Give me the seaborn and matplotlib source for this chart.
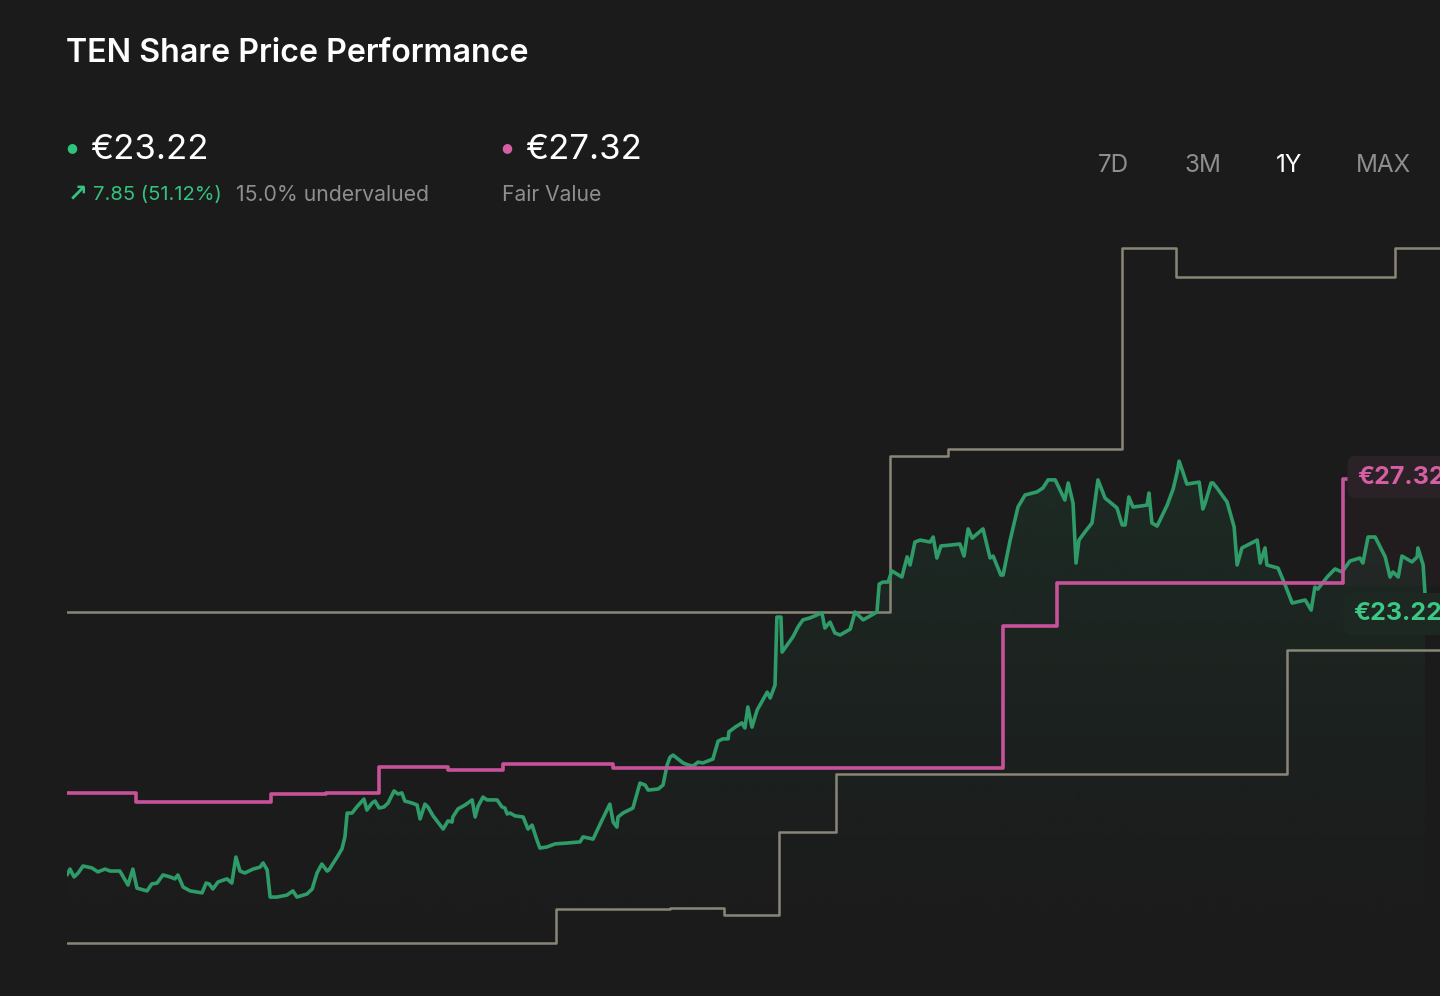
import numpy as np
import pandas as pd
import matplotlib
matplotlib.use("Agg")
import matplotlib.pyplot as plt
import matplotlib.colors as mcolors
import seaborn as sns

# ---------------- data (days since start of 1Y window, price in EUR) ----------------
price_days = [
    0, 0.8, 1.9, 3.0, 4.3, 6.7, 8.3, 10.2, 11.6, 14.2,
    15.6, 16.4, 17.7, 18.8, 21.5, 22.8, 24.2, 25.8, 27.7, 29.0,
    29.8, 31.2, 33.1, 36.3, 37.4, 38.2, 39.2, 40.6, 43.0, 44.3,
    45.4, 46.5, 47.8, 50.0, 51.9, 52.7, 53.8, 54.6, 56.4, 59.1,
    60.7, 61.8, 64.5, 65.9, 67.2, 68.5, 69.9, 70.4, 72.6, 73.9,
    74.7, 75.3, 76.6, 77.9, 79.3, 79.8, 80.6, 82.0, 82.8, 83.9,
    85.2, 86.3, 87.9, 89.0, 90.0, 90.8, 92.7, 94.1, 94.9, 96.2,
    97.0, 98.4, 101.1, 102.4, 103.5, 103.7, 105.1, 107.0, 108.9, 109.7,
    110.5, 111.8, 112.9, 115.6, 116.9, 117.7, 118.3, 119.1, 120.4, 122.6,
    123.9, 125.0, 126.3, 127.1, 129.0, 131.2, 134.4, 137.9, 138.7, 141.4,
    143.3, 145.9, 146.8, 147.8, 148.1, 149.4, 152.1, 154.0, 155.4, 156.2,
    158.9, 160.2, 161.3, 162.1, 162.9, 165.6, 166.9, 168.3, 169.6, 170.9,
    173.6, 175.0, 176.3, 177.7, 177.9, 179.6, 181.4, 182.2, 183.0, 184.1,
    185.5, 188.2, 189.0, 190.3, 190.8, 191.9, 192.2, 195.1, 196.5, 197.8,
    199.7, 202.9, 203.7, 205.1, 206.4, 207.8, 210.5, 211.8, 214.0, 217.7,
    218.3, 219.3, 220.7, 221.7, 224.4, 225.8, 226.6, 227.9, 229.3, 232.0,
    232.8, 233.8, 234.9, 237.3, 240.0, 241.1, 242.2, 243.3, 246.2, 248.1,
    248.9, 251.0, 251.6, 253.5, 255.6, 257.5, 260.7, 262.3, 263.7, 265.6,
    266.9, 268.2, 269.1, 270.4, 271.2, 272.0, 273.6, 275.5, 277.1, 279.0,
    282.2, 283.6, 284.4, 285.4, 286.5, 288.9, 290.3, 290.8, 291.6, 293.0,
    295.7, 297.3, 298.4, 298.9, 300.0, 301.0, 304.3, 305.3, 305.9, 307.5,
    308.0, 309.1, 311.8, 313.7, 314.5, 315.8, 319.9, 320.7, 322.0, 322.5,
    325.5, 327.4, 329.3, 332.8, 334.4, 335.4, 336.2, 338.7, 340.8, 342.7,
    344.8, 347.5, 348.3, 349.7, 351.6, 354.3, 355.6, 356.4, 357.8, 358.8,
    361.5, 362.9, 363.1, 364.5, 365.0,
]
price_values = [
    13.18, 13.39, 13.11, 13.25, 13.50, 13.43, 13.29, 13.39, 13.32, 13.32,
    13.00, 12.82, 13.39, 12.71, 12.61, 12.86, 12.89, 13.18, 13.11, 13.04,
    13.18, 12.75, 12.61, 12.54, 12.89, 12.86, 12.68, 12.93, 13.04, 12.89,
    13.82, 13.32, 13.25, 13.39, 13.46, 13.61, 13.36, 12.39, 12.39, 12.46,
    12.61, 12.39, 12.50, 12.68, 13.25, 13.57, 13.32, 13.36, 13.82, 14.11,
    14.54, 15.39, 15.39, 15.61, 15.82, 15.89, 15.50, 15.75, 15.82, 15.57,
    15.61, 15.75, 16.18, 16.07, 16.11, 15.82, 15.75, 15.68, 15.18, 15.71,
    15.61, 15.29, 14.82, 15.11, 15.07, 15.25, 15.54, 15.68, 15.86, 15.25,
    15.64, 15.96, 15.86, 15.86, 15.61, 15.57, 15.36, 15.39, 15.29, 15.25,
    14.82, 14.96, 14.43, 14.14, 14.18, 14.29, 14.32, 14.36, 14.54, 14.46,
    15.00, 15.71, 15.07, 14.89, 15.25, 15.39, 15.57, 16.46, 16.39, 16.21,
    16.25, 16.39, 17.11, 17.39, 17.46, 17.18, 17.11, 17.07, 17.21, 17.18,
    17.32, 17.96, 18.04, 18.04, 18.29, 18.46, 18.61, 18.43, 19.18, 18.46,
    19.07, 19.71, 19.50, 19.96, 22.39, 22.39, 21.14, 21.68, 22.04, 22.29,
    22.36, 22.54, 22.00, 22.21, 21.82, 21.75, 21.96, 22.57, 22.29, 22.57,
    23.57, 23.64, 23.64, 24.04, 23.82, 24.54, 24.25, 25.07, 25.14, 25.07,
    25.25, 24.50, 24.93, 24.96, 25.00, 24.57, 25.54, 25.21, 25.54, 24.50,
    24.57, 23.89, 23.89, 25.14, 26.32, 26.75, 26.86, 27.00, 27.29, 27.29,
    26.93, 26.57, 27.18, 26.46, 24.32, 25.14, 25.43, 25.75, 27.29, 26.64,
    26.29, 25.68, 25.68, 26.68, 26.32, 26.36, 26.39, 26.82, 25.75, 25.64,
    26.39, 26.96, 27.57, 27.96, 27.54, 27.14, 27.21, 26.25, 26.46, 27.18,
    27.18, 27.00, 26.50, 25.61, 24.25, 24.86, 25.14, 24.32, 24.86, 24.25,
    24.14, 23.54, 22.89, 23.00, 22.64, 23.46, 23.39, 23.82, 24.11, 24.00,
    24.39, 24.50, 24.32, 25.25, 25.25, 24.54, 23.82, 24.00, 23.82, 24.57,
    24.36, 24.54, 24.86, 24.25, 23.22,
]

fair_days = [0, 18.55, 54.83, 69.61, 83.86, 102.41, 117.19, 146.75, 251.58, 266.09, 342.96, 344.84]
fair_values = [16.11, 15.79, 16.07, 16.11, 17.04, 16.93, 17.14, 17.00, 22.07, 23.61, 27.32, 27.32]

target_high_days = [0, 221.21, 236.80, 283.56, 298.08, 356.94, 369.03]
target_high = [22.57, 28.14, 28.39, 35.57, 34.54, 35.57, 35.57]

target_low_days = [0, 131.43, 162.07, 176.59, 191.37, 206.69, 327.91, 369.03]
target_low = [10.75, 11.96, 12.00, 11.75, 14.71, 16.79, 21.21, 21.21]

title = "TEN Share Price Performance"
last_price = "€23.22"
change_txt = "7.85 (51.12%)"
valuation_txt = "15.0% undervalued"
fair_price = "€27.32"
fair_label = "Fair Value"
periods = ["7D", "3M", "1Y", "MAX"]
active_period = "1Y"

# ---------------- style ----------------
BG = "#1b1b1b"
GREEN = "#2e9b69"
GREEN_TXT = "#35c27f"
PINK = "#c8529a"
PINK_TXT = "#d65ea3"
GRAY = "#8a8677"
MUTED = "#8e8e8e"

sns.set_theme(style="dark", rc={"axes.facecolor": BG, "figure.facecolor": BG,
                                "savefig.facecolor": BG})
plt.rcParams["font.family"] = ["Inter", "DejaVu Sans"]

W, H = 1440, 996
fig = plt.figure(figsize=(W / 100, H / 100), dpi=100)
fig.patch.set_facecolor(BG)

XMAX = 369.03
YLO, YHI = 8.857, 36.214
ax = fig.add_axes([67 / W, 0, 1 - 67 / W, (H - 230) / H])
ax.set_facecolor("none")

n = min(len(price_days), len(price_values))
pdays = np.asarray(price_days[:n], dtype=float)
pvals = np.asarray(price_values[:n], dtype=float)

# analyst target range (gray steps)
for xs, ys in [(target_high_days, target_high), (target_low_days, target_low)]:
    sns.lineplot(x=xs, y=ys, ax=ax, color=GRAY, linewidth=1.8,
                 drawstyle="steps-post", estimator=None, sort=False, zorder=2)

# gradient fill below price line
poly = ax.fill_between(pdays, pvals, YLO, color="none", lw=0)
grad = np.zeros((300, 2, 4))
grad[..., :3] = mcolors.to_rgb(GREEN)
levels = np.linspace(YLO, YHI, 300)
alpha = 0.005 + 0.12 * np.clip((levels - 11.0) / (28.0 - 11.0), 0, 1) ** 1.2
grad[..., 3] = alpha[:, None]
im = ax.imshow(grad, extent=[0, XMAX, YLO, YHI], origin="lower", aspect="auto",
               zorder=1, interpolation="bilinear")
im.set_clip_path(poly.get_paths()[0], transform=ax.transData)

# undervaluation band at the end
ax.fill_between([fair_days[-2], XMAX], 23.5, fair_values[-1], color=PINK,
                alpha=0.04, lw=0, zorder=1)

# price line
sns.lineplot(x=pdays, y=pvals, ax=ax, color=GREEN, linewidth=2.6, estimator=None,
             sort=False, zorder=4, solid_joinstyle="round")

# fair value line
sns.lineplot(x=fair_days, y=fair_values, ax=ax, color=PINK, linewidth=2.6,
             drawstyle="steps-post", estimator=None, sort=False, zorder=5)

ax.set_xlim(0, XMAX)
ax.set_ylim(YLO, YHI)
ax.set_axis_off()
if ax.get_legend() is not None:
    ax.get_legend().remove()


def fx(px):
    return px / W


def fy(py):
    return 1 - py / H


# ---------------- header texts ----------------
fig.text(fx(66), fy(54), title, color="white", fontsize=23.2, fontweight="semibold",
         ha="left", va="center")

fig.text(fx(72), fy(148), "●", color="#2fc47c", fontsize=9, ha="center", va="center",
         family=["DejaVu Sans"])
fig.text(fx(90), fy(150), last_price, color="white", fontsize=25, ha="left", va="center")
fig.text(fx(68), fy(194), "↗", color=GREEN_TXT, fontsize=17, fontweight="bold",
         ha="left", va="center", family=["DejaVu Sans"])
fig.text(fx(93), fy(195), change_txt, color=GREEN_TXT, fontsize=14.5, ha="left", va="center")
fig.text(fx(236), fy(195), valuation_txt, color=MUTED, fontsize=15.3, ha="left", va="center")

fig.text(fx(507), fy(148), "●", color=PINK_TXT, fontsize=9, ha="center", va="center",
         family=["DejaVu Sans"])
fig.text(fx(525), fy(150), fair_price, color="white", fontsize=25, ha="left", va="center")
fig.text(fx(502), fy(195), fair_label, color=MUTED, fontsize=15.2, ha="left", va="center")

period_x = [1113, 1203, 1289, 1384]
for lab, px in zip(periods, period_x):
    fig.text(fx(px), fy(166), lab, color="white" if lab == active_period else MUTED,
             fontsize=17.5, ha="center", va="center")

# ---------------- end-of-line labels ----------------
fig.text(fx(1357), fy(477), fair_price, color=PINK_TXT, fontsize=18, fontweight="bold",
         ha="left", va="center",
         bbox=dict(boxstyle="round,pad=0.38,rounding_size=0.3", fc="#2a2227", ec="none"))
fig.text(fx(1353), fy(614), last_price, color="#3cc985", fontsize=18, fontweight="bold",
         ha="left", va="center",
         bbox=dict(boxstyle="round,pad=0.38,rounding_size=0.3", fc="#1e2823", ec="none"))

fig.savefig("out.png", dpi=100, facecolor=BG)
